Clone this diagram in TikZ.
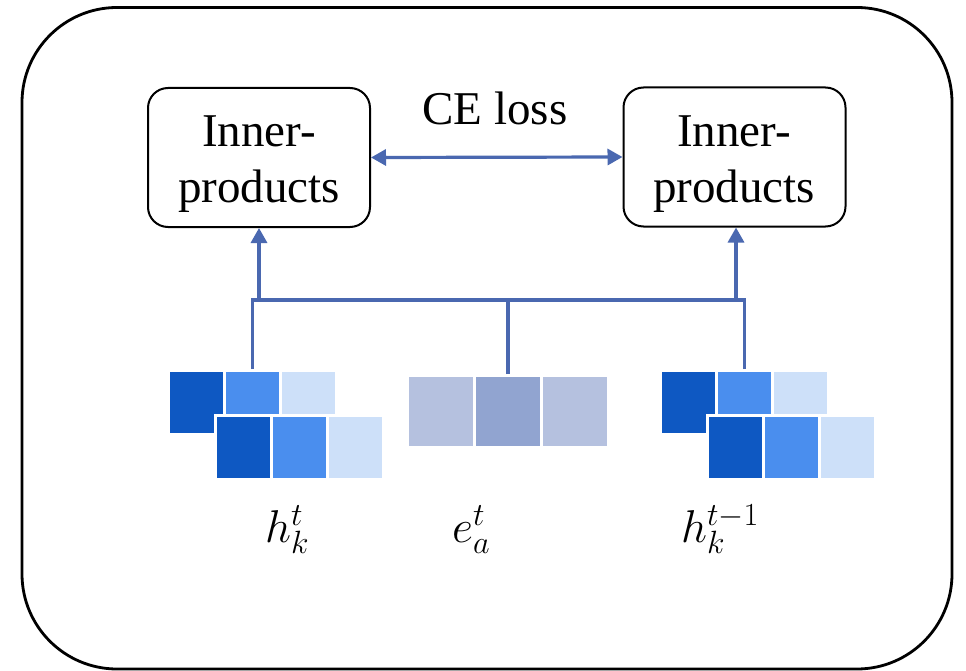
\RequirePackage{fix-cm}
\documentclass[tikz,border=0pt]{standalone}
\usepackage{fontspec}
\setmainfont{Liberation Serif}
\usetikzlibrary{arrows.meta,calc}
\definecolor{lnc}{RGB}{74,104,176}
\definecolor{cdark}{RGB}{14,88,194}
\definecolor{cmid}{RGB}{74,142,238}
\definecolor{clight}{RGB}{205,224,249}
\definecolor{elight}{RGB}{181,193,223}
\definecolor{emid}{RGB}{145,164,208}
\tikzset{
  cell/.style={rectangle, draw=white, line width=3pt, inner sep=0pt, minimum width=56pt, minimum height=64pt},
  ecell/.style={rectangle, draw=white, line width=3pt, inner sep=0pt, minimum width=67pt, minimum height=72pt},
  ipbox/.style={draw=black, line width=2pt, rounded corners=20pt, minimum width=222pt, minimum height=139pt, inner sep=0pt},
  iptext/.style={align=center, font=\fontsize{47}{56}\selectfont, inner sep=0pt},
  cetext/.style={font=\fontsize{47}{56}\selectfont, inner sep=0pt},
  mlab/.style={font=\fontsize{46}{54}\selectfont, inner sep=0pt},
  conn/.style={draw=lnc, line width=3.2pt},
  tip/.style={-{Triangle[length=15pt,width=16pt]}},
  dtip/.style={{Triangle[length=15pt,width=16pt]}-{Triangle[length=15pt,width=16pt]}}
}
\begin{document}
\begin{tikzpicture}[x=1pt,y=-1pt]
\useasboundingbox (0,0) rectangle (966,671);
\draw[line width=2.8pt, rounded corners=95pt] (22,7.5) rectangle (952,669);

% Inner-product boxes
\node[ipbox] (L) at (259,157.5) {};
\node[ipbox] (R) at (734.5,157) {};
\node[iptext] (Lt) at (259,164) {Inner-\\products};
\node[iptext] (Rt) at (734,164) {Inner-\\products};
\node[cetext, anchor=base] (ce) at (495,125) {CE loss};

% left h_k^t blocks
\node[cell, fill=cdark]  (lt1) at (196.5,402.5) {};
\node[cell, fill=cmid]   (lt2) at (252.5,402.5) {};
\node[cell, fill=clight] (lt3) at (308.5,402.5) {};
\node[cell, fill=cdark]  (lb1) at (243.5,447.5) {};
\node[cell, fill=cmid]   (lb2) at (299.5,447.5) {};
\node[cell, fill=clight] (lb3) at (355.5,447.5) {};

% middle e_a^t blocks
\node[ecell, fill=elight] (e1) at (441,411.5) {};
\node[ecell, fill=emid]   (e2) at (508,411.5) {};
\node[ecell, fill=elight] (e3) at (575,411.5) {};

% right h_k^{t-1} blocks
\node[cell, fill=cdark]  (rt1) at (688.5,402.5) {};
\node[cell, fill=cmid]   (rt2) at (744.5,402.5) {};
\node[cell, fill=clight] (rt3) at (800.5,402.5) {};
\node[cell, fill=cdark]  (rb1) at (735.5,447.5) {};
\node[cell, fill=cmid]   (rb2) at (791.5,447.5) {};
\node[cell, fill=clight] (rb3) at (847.5,447.5) {};

% labels
\node[mlab, anchor=base west] (hl) at (265,542) {$h_k^t$};
\node[mlab, anchor=base west] (el) at (452,542) {$e_a^t$};
\node[mlab, anchor=base west] (hr) at (681,542) {$h_k^{t-1}$};

% connectors
\coordinate (busL) at (259,300);
\coordinate (busR) at (736,300);
\draw[conn] (busL) -- (busR);
\draw[conn] (lt2.north) |- (busL);
\draw[conn] (rt2.north) |- (busR);
\draw[conn] (e2.north) -- (e2.north |- busL);
\draw[conn, tip] (busL) -- (L.south);
\draw[conn, tip] (busR) -- (busR |- R.south);
\draw[conn, dtip] (L.east) -- (R.west);
\end{tikzpicture}
\end{document}
